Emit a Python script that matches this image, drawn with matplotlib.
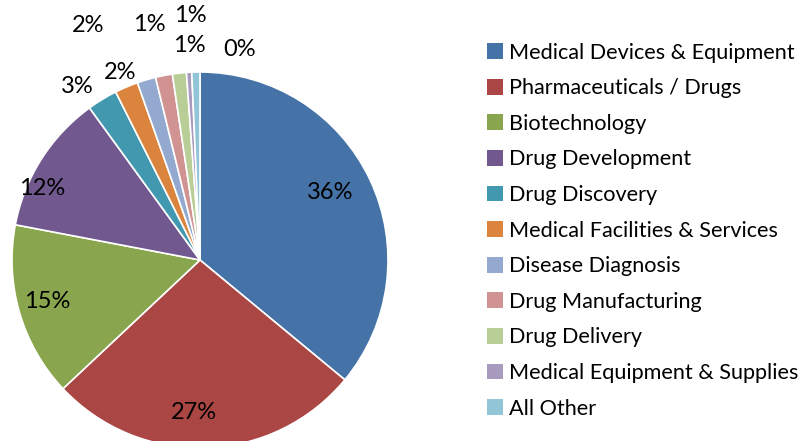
import numpy as np
import matplotlib.pyplot as plt
from matplotlib.patches import Patch

plt.rcParams['font.family'] = ['Lato', 'DejaVu Sans']

categories = ['Medical Devices & Equipment', 'Pharmaceuticals / Drugs', 'Biotechnology',
              'Drug Development', 'Drug Discovery', 'Medical Facilities & Services',
              'Disease Diagnosis', 'Drug Manufacturing', 'Drug Delivery',
              'Medical Equipment & Supplies', 'All Other']
values = [36.0, 27.0, 15.0, 12.0, 2.6, 2.0, 1.6, 1.45, 1.2, 0.45, 0.7]
pct_labels = ['36%', '27%', '15%', '12%', '3%', '2%', '2%', '1%', '1%', '1%', '0%']
colors = ['#4572A7', '#AA4643', '#89A54E', '#71588F', '#4198AF', '#DB843D',
          '#93A9CF', '#D19392', '#B9CD96', '#A99BBD', '#92C5D8']

# label placement (radius factor, angular shift in degrees)
label_r = [0.78, 0.81, 0.84, 0.92, 1.13, 1.085, 1.38, 1.28, 1.30, 1.14, 1.14]
label_shift = [2, -4, -1, 8, 4, 0, 9, 1, -4, -0.5, -12]

fig = plt.figure(figsize=(8.12, 4.41), dpi=100)
ax = fig.add_axes([12 / 812, (441 - 260 - 188) / 441, 376 / 812, 376 / 441])
wedges, _ = ax.pie(values, colors=colors, startangle=90, counterclock=False,
                   wedgeprops=dict(edgecolor='white', linewidth=1.2))
ax.set_xlim(-1, 1)
ax.set_ylim(-1, 1)
ax.set_aspect('equal')
ax.axis('off')

for w, lab, r, s in zip(wedges, pct_labels, label_r, label_shift):
    ang = np.deg2rad((w.theta1 + w.theta2) / 2 + s)
    ax.text(r * np.cos(ang), r * np.sin(ang), lab, ha='center', va='center',
            fontsize=17, color='black', clip_on=False)

handles = [Patch(facecolor=c, edgecolor='none') for c in colors]
fig.legend(handles, categories, loc='upper left', bbox_to_anchor=(478 / 812, 1 - 34 / 441),
           frameon=False, fontsize=15.6, handlelength=0.75, handleheight=0.75,
           handletextpad=0.3, labelspacing=0.72, borderaxespad=0)

fig.savefig('out.png', dpi=100)
